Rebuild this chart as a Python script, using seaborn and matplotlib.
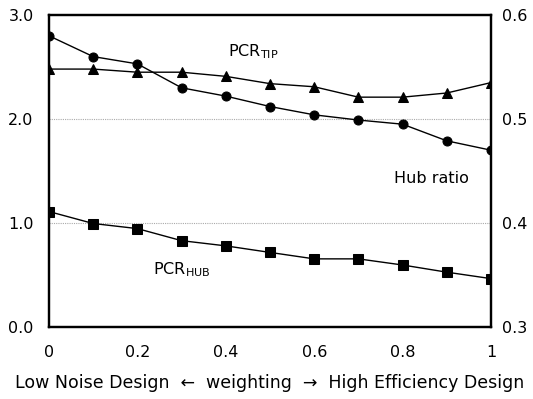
import matplotlib
matplotlib.use("Agg")
import matplotlib.pyplot as plt
import seaborn as sns
import pandas as pd

weighting = [0.0, 0.1, 0.2, 0.3, 0.4, 0.5, 0.6, 0.7, 0.8, 0.9, 1.0]
pcr_tip = [2.48, 2.48, 2.45, 2.45, 2.41, 2.34, 2.31, 2.21, 2.21, 2.25, 2.35]
pcr_hub = [1.11, 0.995, 0.946, 0.83, 0.78, 0.717, 0.655, 0.655, 0.596, 0.527, 0.465]
hub_ratio = [0.580, 0.560, 0.553, 0.530, 0.522, 0.512, 0.504, 0.499, 0.495, 0.479, 0.470]

x_ticks = [0, 0.2, 0.4, 0.6, 0.8, 1]
x_tick_labels = ["0", "0.2", "0.4", "0.6", "0.8", "1"]
left_ticks = [0.0, 1.0, 2.0, 3.0]
right_ticks = [0.3, 0.4, 0.5, 0.6]

df = pd.DataFrame({"w": weighting, "tip": pcr_tip, "hub": pcr_hub, "ratio": hub_ratio})

sns.set_style("white")
plt.rcParams["font.family"] = ["DejaVu Sans"]
plt.rcParams["text.color"] = "black"
plt.rcParams["xtick.color"] = "black"
plt.rcParams["ytick.color"] = "black"
plt.rcParams["axes.labelcolor"] = "black"

fig = plt.figure(figsize=(5.33, 3.99), dpi=100)
ax = fig.add_axes([0.0919, 0.1805, 0.8293, 0.7819])
ax2 = ax.twinx()

sns.lineplot(data=df, x="w", y="tip", ax=ax, color="black", lw=1.0,
             marker="^", markersize=7, markeredgecolor="black", markerfacecolor="black")
sns.lineplot(data=df, x="w", y="hub", ax=ax, color="black", lw=1.0,
             marker="s", markersize=6.5, markeredgecolor="black", markerfacecolor="black")
sns.lineplot(data=df, x="w", y="ratio", ax=ax2, color="black", lw=1.0,
             marker="o", markersize=6.5, markeredgecolor="black", markerfacecolor="black")

for yv in [1.0, 2.0]:
    ax.axhline(yv, color="#aaaaaa", lw=0.8, ls=(0, (1, 1)), zorder=0)

ax.set_xlim(0, 1)
ax.set_ylim(0, 3)
ax2.set_ylim(0.3, 0.6)
ax.set_xticks(x_ticks)
ax.set_xticklabels(x_tick_labels)
ax.set_yticks(left_ticks)
ax.set_yticklabels([f"{v:.1f}" for v in left_ticks])
ax2.set_yticks(right_ticks)
ax2.set_yticklabels([f"{v:.1f}" for v in right_ticks])

ax.tick_params(axis="x", length=0, pad=13, labelsize=11.5, colors="black")
ax.tick_params(axis="y", length=0, pad=11, labelsize=11.5, colors="black")
ax2.tick_params(axis="y", length=0, pad=8, labelsize=11.5, colors="black")

for a in (ax, ax2):
    for s in a.spines.values():
        s.set_color("black")
        s.set_linewidth(1.6)

ax.set_xlabel("Low Noise Design  \u2190  weighting  \u2192  High Efficiency Design",
              fontsize=12.5, labelpad=10, color="black")
ax.set_ylabel("")
ax2.set_ylabel("")

ax.text(0.405, 2.65, r"PCR$_{\rm TIP}$", fontsize=11.5, ha="left", va="center", color="black")
ax.text(0.78, 1.43, "Hub ratio", fontsize=11.5, ha="left", va="center", color="black")
ax.text(0.235, 0.55, r"PCR$_{\rm HUB}$", fontsize=11.5, ha="left", va="center", color="black")

fig.savefig("out.png", dpi=100)
